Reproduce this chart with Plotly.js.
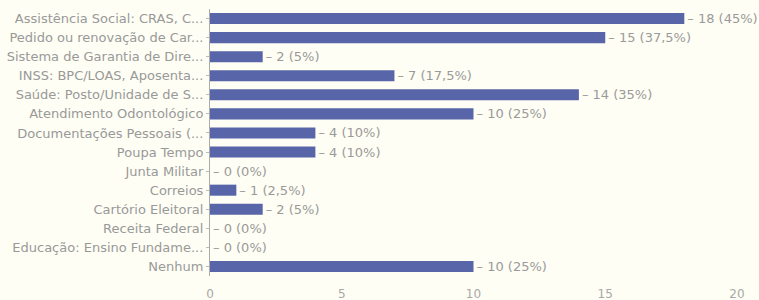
<!DOCTYPE html>
<html>
<head>
<meta charset="utf-8">
<script src="https://cdn.plot.ly/plotly-3.0.1.min.js"></script>
<style>html,body{margin:0;padding:0;background:#fefef4;}#chart{width:759px;height:300px;}</style>
</head>
<body>
<div id="chart"></div>
<script>
const categories = [
  "Assistência Social: CRAS, C...",
  "Pedido ou renovação de Car...",
  "Sistema de Garantia de Dire...",
  "INSS: BPC/LOAS, Aposenta...",
  "Saúde: Posto/Unidade de S...",
  "Atendimento Odontológico",
  "Documentações Pessoais (...",
  "Poupa Tempo",
  "Junta Militar",
  "Correios",
  "Cartório Eleitoral",
  "Receita Federal",
  "Educação: Ensino Fundame...",
  "Nenhum"
];
const counts = [18, 15, 2, 7, 14, 10, 4, 4, 0, 1, 2, 0, 0, 10];
const percentLabels = ["45%", "37,5%", "5%", "17,5%", "35%", "25%", "10%", "10%", "0%", "2,5%", "5%", "0%", "0%", "25%"];
const xTicks = [0, 5, 10, 15, 20];

const labels = counts.map((c, i) => "– " + c + " (" + percentLabels[i] + ")");
const FONT = "DejaVu Sans, Verdana, sans-serif";

Plotly.newPlot("chart", [{
  type: "bar",
  orientation: "h",
  y: categories,
  x: counts,
  text: labels,
  textposition: "outside",
  constraintext: "none",
  cliponaxis: false,
  textfont: {family: FONT, size: 13, color: "#9a9a9a"},
  marker: {color: "#5866a9"},
  hoverinfo: "none"
}], {
  width: 759, height: 300,
  margin: {l: 210, r: 22, t: 9, b: 24},
  paper_bgcolor: "#fefef4",
  plot_bgcolor: "#fefef4",
  bargap: 0.42,
  showlegend: false,
  font: {family: FONT, size: 13, color: "#999"},
  xaxis: {
    range: [0, 20],
    tickvals: xTicks,
    showgrid: false,
    zeroline: false,
    showline: false,
    ticks: "",
    ticklabelstandoff: 9,
    tickfont: {family: FONT, size: 12, color: "#a8a8a8"}
  },
  yaxis: {
    autorange: "reversed",
    showgrid: false,
    zeroline: false,
    showline: true,
    linecolor: "#aaa",
    linewidth: 1,
    ticks: "outside",
    ticklen: 3,
    tickcolor: "#bbb",
    tickfont: {family: FONT, size: 13, color: "#999"}
  }
}, {staticPlot: true});
</script>
</body>
</html>
